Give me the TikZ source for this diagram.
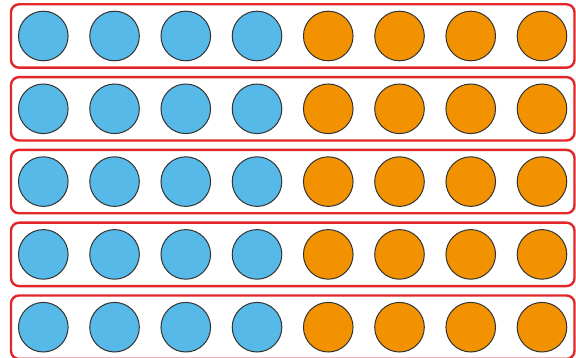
\documentclass[tikz,border=0pt]{standalone}
\definecolor{fblue}{HTML}{56B9E8}
\definecolor{forange}{HTML}{F29200}
\definecolor{fred}{HTML}{E3262A}
\definecolor{fline}{HTML}{333333}
\tikzset{
  frame/.style={draw=fred, line width=2.4pt, rounded corners=8pt},
  dotb/.style={circle, draw=fline, line width=1pt, fill=fblue, minimum size=49.6pt, inner sep=0pt},
  doto/.style={circle, draw=fline, line width=1pt, fill=forange, minimum size=49.6pt, inner sep=0pt},
}
\begin{document}
\begin{tikzpicture}[x=1pt,y=-1pt]
\useasboundingbox (0,0) rectangle (576,358);
\foreach \r in {0,...,4}{
  \pgfmathsetmacro{\yc}{36+72.8*\r}
  \draw[frame] (11,\yc-31.7) rectangle (574.5,\yc+31.7);
  \foreach \i in {0,...,3}{
    \node[dotb] (b\r\i) at ({43.3+71.24*\i},\yc) {};
  }
  \foreach \i in {4,...,7}{
    \node[doto] (o\r\i) at ({43.3+71.24*\i},\yc) {};
  }
}
\end{tikzpicture}
\end{document}
